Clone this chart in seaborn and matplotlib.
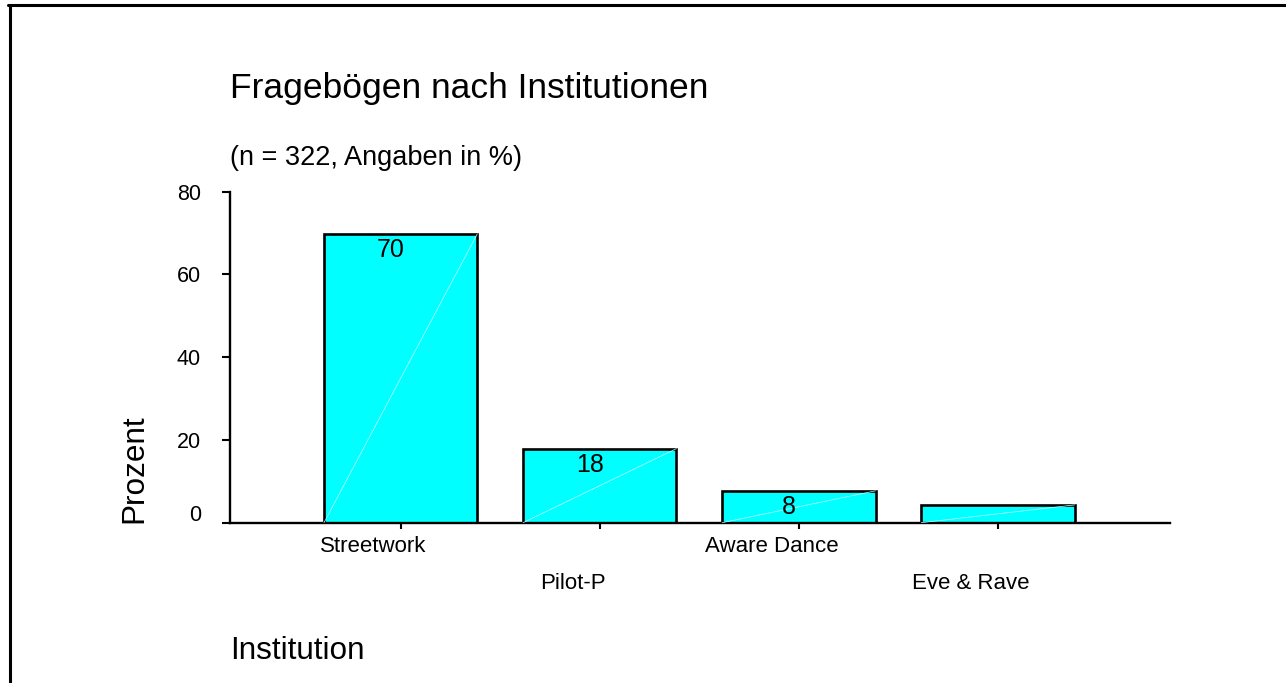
"""Fragebögen nach Institutionen - bar chart with staggered category labels."""

import matplotlib.pyplot as plt
import matplotlib.transforms as mtransforms
from matplotlib.lines import Line2D
import seaborn as sns

# data
institutions = ['Streetwork', 'Pilot-P', 'Aware Dance', 'Eve & Rave']
percent = [69.8, 17.9, 7.7, 4.3]
bar_labels = ['70', '18', '8', '']
y_ticks = [0, 20, 40, 60, 80]

sns.set_style('ticks')
plt.rcParams['font.family'] = ['Liberation Sans', 'DejaVu Sans']
plt.rcParams['text.color'] = 'black'

fig = plt.figure(figsize=(12.86, 6.83), dpi=100)
W, H = 1286, 683
ax = fig.add_axes([230 / W, 1 - 522.7 / H, 940 / W, 331 / H])

sns.barplot(x=institutions, y=percent, color='#00ffff', saturation=1,
            edgecolor='black', linewidth=1.9, width=0.77, ax=ax)

# faint diagonal inside each bar (artefact of the original rendering)
for bar in ax.patches:
    x0, w, h = bar.get_x(), bar.get_width(), bar.get_height()
    ax.plot([x0, x0 + w], [0, h], color='#c8ffff', lw=0.5, zorder=3)

# value labels inside the bar tops
for bar, lab in zip(ax.patches, bar_labels):
    ax.annotate(lab, (bar.get_x() + bar.get_width() / 2, bar.get_height()),
                xytext=(-7, -3), textcoords='offset points',
                ha='center', va='top', fontsize=18, color='black', zorder=4)

ax.set_xlim(-0.857, 3.864)
ax.set_ylim(0, 80)
ax.set_yticks(y_ticks)
ax.set(xlabel=None, ylabel=None)
sns.despine(ax=ax)
ax.set_facecolor('white')
for s in ['left', 'bottom']:
    ax.spines[s].set_linewidth(1.7)
    ax.spines[s].set_color('black')
ax.tick_params(axis='y', length=6, width=1.5, pad=15, labelsize=15.5,
               colors='black', labelcolor='black')
ax.tick_params(axis='x', length=4.5, width=1.5, pad=5, labelsize=16,
               colors='black', labelcolor='black')

# staggered category labels, shifted slightly left like the original
for i, lbl in enumerate(ax.get_xticklabels()):
    dy = -27 / 72 if i % 2 else 0
    off = mtransforms.ScaledTranslation(-27 / 100, dy, fig.dpi_scale_trans)
    lbl.set_transform(lbl.get_transform() + off)
ylbls = ax.get_yticklabels()
ylbls[0].set_transform(ylbls[0].get_transform()
                       + mtransforms.ScaledTranslation(0, 10 / 100, fig.dpi_scale_trans))

fig.text(230 / W, 1 - 98 / H, 'Fragebögen nach Institutionen',
         fontsize=25.5, va='baseline', ha='left')
fig.text(230 / W, 1 - 165 / H, '(n = 322, Angaben in %)',
         fontsize=19.5, va='baseline', ha='left')
fig.text(230 / W, 1 - 659 / H, 'Institution',
         fontsize=22.7, va='baseline', ha='left')
fig.text(149 / W, 1 - 522.7 / H, 'Prozent', rotation=90,
         fontsize=22.7, va='bottom', ha='right')

# frame lines (top and left) of the original page
fig.add_artist(Line2D([8 / W, 1], [1 - 4.5 / H, 1 - 4.5 / H],
                      transform=fig.transFigure, color='black', lw=2.2))
fig.add_artist(Line2D([9.5 / W, 9.5 / W], [0, 1 - 4.5 / H],
                      transform=fig.transFigure, color='black', lw=2.2))

fig.savefig('out.png', dpi=100)
